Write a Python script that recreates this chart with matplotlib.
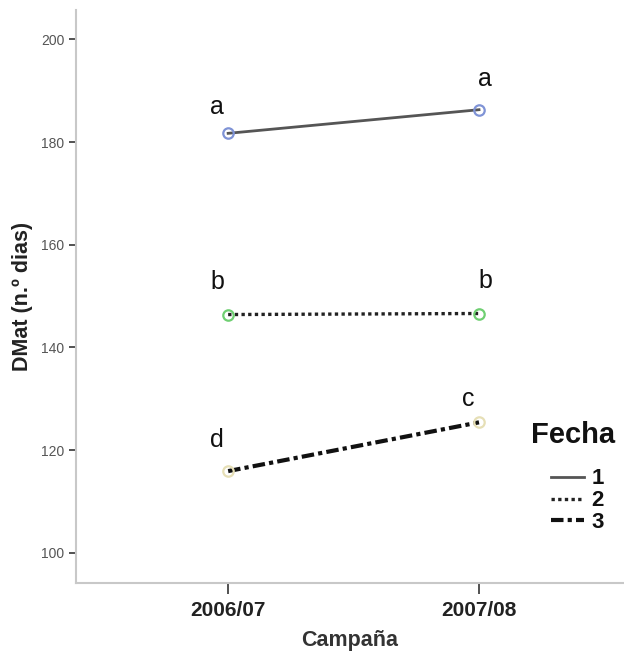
import matplotlib.pyplot as plt
from matplotlib.lines import Line2D

plt.rcParams['font.family'] = ['Liberation Sans', 'DejaVu Sans']

# Mean DMat per sowing date (Fecha) and season (Campaña)
campanas = ['2006/07', '2007/08']
fechas = ['1', '2', '3']
dmat_f1 = [181.7, 186.3]
dmat_f2 = [146.4, 146.6]
dmat_f3 = [115.9, 125.4]
letras_f1 = ['a', 'a']
letras_f2 = ['b', 'b']
letras_f3 = ['d', 'c']

series = [dmat_f1, dmat_f2, dmat_f3]
letras = [letras_f1, letras_f2, letras_f3]
estilos = ['-', (0, (1, 1)), (0, (3, 1, 1, 1))]
colores_linea = ['#555555', '#222222', '#111111']
colores_marca = ['#7f93d6', '#6fcf72', '#e6dfb6']
anchos = [2.0, 2.4, 3.0]
# label offsets in data units (dx, dy)
offs = [[(-0.044, 5.2), (0.024, 6.0)], [(-0.044, 6.3), (0.024, 6.3)], [(-0.044, 6.0), (-0.044, 4.6)]]

fig = plt.figure(figsize=(6.24, 6.57), dpi=100)
ax = fig.add_axes([0.122, 0.1126, 0.878, 0.872])

x = [0, 1]
for s, st, lc, mc, lw, lets, of in zip(series, estilos, colores_linea, colores_marca, anchos, letras, offs):
    ax.plot(x, s, linestyle=st, color=lc, lw=lw, zorder=2)
    ax.plot(x, s, 'o', mfc='none', mec=mc, mew=1.6, ms=7.5, zorder=3)
    for xi, yi, l, (dx, dy) in zip(x, s, lets, of):
        ax.text(xi + dx, yi + dy, l, fontsize=18, ha='center', va='center', color='#111111')

ax.set_xlim(-0.606, 1.578)
ax.set_ylim(94.1, 205.7)
ax.set_yticks([100, 120, 140, 160, 180, 200])
ax.set_xticks(x)
ax.set_xticklabels(campanas, fontsize=15, fontweight='bold', color='#222222')
ax.tick_params(axis='y', labelsize=10, labelcolor='#555555', color='#333333', length=5, width=1.2)
ax.tick_params(axis='x', color='#333333', length=8, width=1.2, pad=5)

for sp in ['top', 'right']:
    ax.spines[sp].set_visible(False)
for sp in ['left', 'bottom']:
    ax.spines[sp].set_color('#c8c8c8')
    ax.spines[sp].set_linewidth(1.5)

ax.set_ylabel('DMat (n.º dias)', fontsize=15.5, fontweight='bold', color='#222222', labelpad=6)
ax.set_xlabel('Campaña', fontsize=15.5, fontweight='bold', color='#333333', labelpad=7)

# legend: title drawn separately so the entries sit indented under it
ax.text(0.83, 0.258, 'Fecha', transform=ax.transAxes, fontsize=21, fontweight='bold',
        color='#111111', ha='left', va='center')
handles = [Line2D([], [], linestyle=st, color=lc, lw=lw) for st, lc, lw in zip(estilos, colores_linea, anchos)]
leg = ax.legend(handles, fechas, loc='upper left', bbox_to_anchor=(0.867, 0.2),
                frameon=False, prop={'weight': 'bold', 'size': 16}, handlelength=1.5,
                handletextpad=0.3, labelspacing=0.04, borderpad=0, borderaxespad=0)
for t in leg.get_texts():
    t.set_color('#111111')

fig.savefig('out.png', dpi=100)
